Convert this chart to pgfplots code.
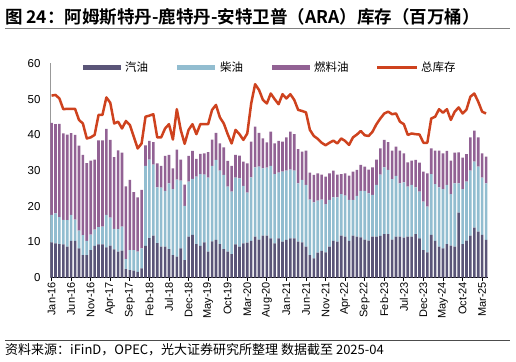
\documentclass[border=0pt]{standalone}
\usepackage{fontspec}
\setmainfont{Liberation Sans}
\newfontfamily\cjk{Noto Sans CJK SC}
\newfontfamily\cjkb{Noto Sans CJK SC Bold}
\usepackage{pgfplots}
\usepackage{pgfplotstable}
\pgfplotsset{compat=1.18}
\definecolor{cgas}{RGB}{90,85,120}
\definecolor{cdie}{RGB}{146,189,208}
\definecolor{cfuel}{RGB}{146,98,148}
\definecolor{ctot}{RGB}{206,66,30}
\pgfplotstableread{
i gas diesel fuel total
0 9.9 7.7 25.8 51.0
1 9.6 8.4 25.0 51.2
2 9.4 7.6 26.1 50.2
3 9.3 6.9 24.2 47.2
4 8.7 7.4 24.0 47.3
5 10.3 7.3 22.9 47.3
6 10.3 6.0 23.7 47.3
7 8.2 5.0 23.8 44.2
8 6.3 5.6 22.5 43.2
9 6.3 4.0 21.8 39.0
10 7.7 4.4 20.7 39.3
11 8.9 4.6 19.6 40.0
12 9.3 4.9 24.3 45.6
13 9.3 5.0 24.2 45.6
14 8.5 9.1 24.1 50.5
15 9.0 7.8 21.8 49.0
16 7.9 5.8 20.1 43.2
17 7.3 6.3 22.1 43.7
18 7.6 6.7 20.7 41.8
19 2.4 2.8 20.4 43.9
20 2.1 5.6 19.7 42.8
21 2.0 5.7 16.3 39.5
22 1.6 5.7 15.2 36.2
23 2.6 5.6 16.4 37.6
24 8.9 22.4 5.8 45.1
25 11.1 22.0 5.2 45.4
26 11.8 19.9 6.3 45.8
27 9.7 15.6 6.7 39.3
28 8.7 16.5 6.1 39.3
29 8.7 15.6 9.8 41.8
30 8.0 18.4 8.0 43.0
31 6.3 18.5 5.8 38.7
32 5.9 21.6 8.4 47.2
33 8.2 19.0 5.9 41.4
34 4.9 15.2 6.0 37.5
35 11.5 15.4 7.2 41.4
36 12.0 15.7 7.8 43.0
37 9.4 18.9 5.0 40.2
38 8.9 20.1 5.7 43.0
39 9.9 19.0 5.9 43.0
40 7.3 20.7 7.2 43.0
41 10.2 21.1 7.4 47.0
42 10.6 22.4 7.6 48.4
43 9.4 20.6 7.6 44.9
44 8.0 20.8 7.7 43.2
45 7.3 18.2 7.2 40.2
46 6.6 17.5 7.2 37.6
47 9.3 18.7 6.4 41.4
48 8.7 19.1 6.4 40.2
49 9.6 16.1 6.8 38.6
50 9.8 14.0 8.2 40.4
51 10.3 17.8 10.0 48.8
52 11.5 19.4 11.4 54.2
53 10.7 20.4 9.5 52.6
54 11.8 18.8 8.4 49.8
55 11.8 19.0 7.1 48.8
56 11.0 20.3 9.6 51.6
57 9.6 19.4 8.6 50.0
58 11.0 18.4 8.9 48.6
59 10.1 19.6 8.4 51.4
60 10.6 19.4 9.3 50.2
61 11.0 19.3 10.6 51.4
62 11.0 19.0 10.2 49.8
63 10.1 16.3 9.6 47.0
64 9.9 17.5 7.9 46.7
65 8.7 17.3 9.6 46.3
66 6.3 15.6 7.5 41.4
67 5.4 15.7 7.7 39.7
68 7.0 14.6 7.6 38.9
69 7.5 14.4 7.0 37.8
70 7.1 13.5 7.7 37.1
71 8.7 13.1 7.4 37.8
72 10.3 12.2 7.5 38.4
73 10.1 12.4 6.4 37.6
74 11.8 11.6 5.6 39.0
75 11.5 11.5 6.2 38.3
76 10.3 11.5 6.8 37.2
77 11.8 10.0 7.9 39.3
78 11.5 11.4 7.3 40.1
79 11.3 13.0 7.3 41.1
80 10.7 13.6 6.8 39.9
81 10.4 13.2 6.7 39.7
82 11.5 11.7 7.7 40.9
83 11.5 14.5 7.1 43.0
84 11.7 17.2 7.3 44.6
85 12.2 18.7 7.7 46.0
86 12.2 18.0 7.8 46.5
87 10.7 16.9 8.0 45.8
88 11.5 17.0 8.2 46.0
89 11.5 14.9 9.2 43.7
90 11.2 15.5 8.1 43.0
91 11.5 14.0 6.8 40.0
92 11.5 14.5 6.8 40.4
93 12.2 13.1 7.7 40.2
94 11.0 13.1 8.1 40.1
95 7.7 13.6 8.4 37.8
96 7.1 12.8 9.3 37.8
97 12.0 17.0 7.2 44.6
98 10.3 15.9 9.4 45.1
99 8.7 16.6 10.3 47.2
100 8.2 16.6 10.0 46.2
101 9.4 16.6 9.5 47.2
102 9.0 14.4 9.4 44.2
103 8.7 17.7 8.6 46.5
104 18.2 8.2 8.7 47.7
105 9.4 15.4 8.8 46.0
106 10.4 16.5 7.7 47.1
107 11.8 18.2 9.3 50.7
108 14.0 18.5 8.7 51.6
109 12.9 18.2 8.2 49.3
110 12.0 16.0 6.8 46.5
111 10.6 15.8 7.5 46.0
}\datatable
\begin{document}
\begin{tikzpicture}
\path (0pt,0pt) rectangle (516pt,361pt);
% title
\node[anchor=base west, inner sep=0pt] at (5pt,337.5pt) {\cjkb\fontsize{17.5}{17.5}\selectfont 图 24：阿姆斯特丹-鹿特丹-安特卫普（ARA）库存（百万桶）};
\draw[gray, line width=1.3pt] (5pt,332.5pt) -- (510pt,332.5pt);
% footer
\draw[black!70, line width=0.9pt] (5pt,20.3pt) -- (510pt,20.3pt);
\node[anchor=base west, inner sep=0pt] at (5pt,6.5pt) {\cjk\fontsize{13}{13}\selectfont 资料来源：iFinD，OPEC，光大证券研究所整理 数据截至 2025-04};
\begin{axis}[
  at={(50pt,83.3pt)}, anchor=south west,
  scale only axis, width=438pt, height=214.2pt,
  xmin=-0.4, xmax=111.5, ymin=0, ymax=60,
  ybar stacked, bar width=2.6pt,
  axis x line*=bottom, axis y line*=left,
  x axis line style={black, line width=1.2pt},
  y axis line style={draw=gray!80, line width=0.8pt},
  tick align=outside,
  xtick={0,5,...,110},
  xticklabels={Jan-16,Jun-16,Nov-16,Apr-17,Sep-17,Feb-18,Jul-18,Dec-18,May-19,Oct-19,Mar-20,Aug-20,Jan-21,Jun-21,Nov-21,Apr-22,Sep-22,Feb-23,Jul-23,Dec-23,May-24,Oct-24,Mar-25},
  x tick label style={rotate=90, anchor=east, font=\fontsize{11}{11}\selectfont, inner sep=1pt},
  xtick style={black, line width=0.8pt},
  major tick length=3pt,
  ytick={0,10,...,60},
  ytick style={draw=none},
  y tick label style={font=\fontsize{11.5}{11.5}\selectfont, xshift=-3pt},
  /pgf/number format/assume math mode=true,
  clip=false,
]
\addplot[fill=cgas, draw=none] table[x=i, y=gas] {\datatable};
\addplot[fill=cdie, draw=none] table[x=i, y=diesel] {\datatable};
\addplot[fill=cfuel, draw=none] table[x=i, y=fuel] {\datatable};
\end{axis}
\begin{axis}[
  at={(50pt,83.3pt)}, anchor=south west,
  scale only axis, width=438pt, height=214.2pt,
  xmin=-0.4, xmax=111.5, ymin=0, ymax=60,
  axis lines=none, clip=false,
]
\addplot[ctot, line width=2.5pt, line join=round, mark=none] table[x=i, y=total] {\datatable};
\end{axis}
% legend
\fill[cgas] (82.7pt,291.2pt) rectangle (120.7pt,296.2pt);
\node[anchor=west, inner sep=0pt] at (125pt,293.7pt) {\cjk\fontsize{11.5}{11.5}\selectfont 汽油};
\fill[cdie] (177pt,291.2pt) rectangle (215pt,296.2pt);
\node[anchor=west, inner sep=0pt] at (220pt,293.7pt) {\cjk\fontsize{11.5}{11.5}\selectfont 柴油};
\fill[cfuel] (272pt,291.2pt) rectangle (310pt,296.2pt);
\node[anchor=west, inner sep=0pt] at (314pt,293.7pt) {\cjk\fontsize{11.5}{11.5}\selectfont 燃料油};
\draw[ctot, line width=2.5pt] (377pt,293.7pt) -- (417pt,293.7pt);
\node[anchor=west, inner sep=0pt] at (421pt,293.7pt) {\cjk\fontsize{11.5}{11.5}\selectfont 总库存};
\end{tikzpicture}
\end{document}
